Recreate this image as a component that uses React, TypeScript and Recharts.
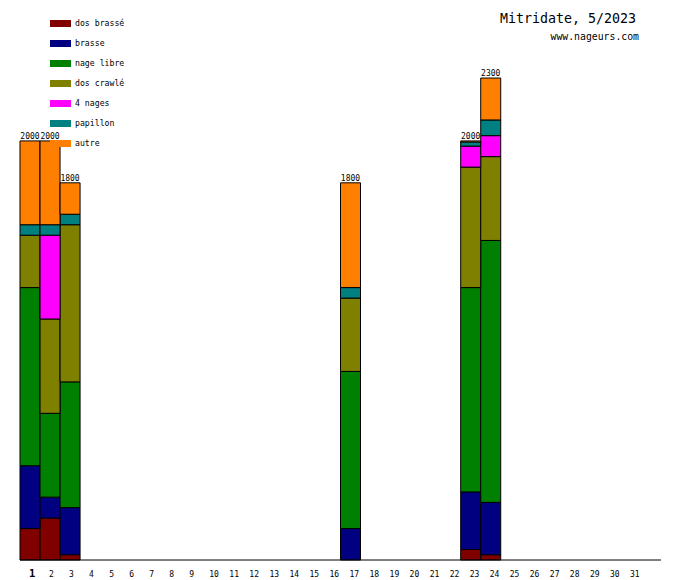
import { BarChart, Bar, XAxis, YAxis, LabelList } from 'recharts';

const days = Array.from({ length: 32 }, (_, i) => (i < 31 ? String(i + 1) : ''));

const activeDays = ['1', '2', '3', '17', '23', '24'];
const dosBrasse = [150, 200, 25, 0, 50, 25];
const brasse = [300, 100, 225, 150, 275, 250];
const nageLibre = [850, 400, 600, 750, 975, 1250];
const dosCrawle = [250, 450, 750, 350, 575, 400];
const quatreNages = [0, 400, 0, 0, 100, 100];
const papillon = [50, 50, 50, 50, 20, 75];
const autre = [400, 400, 150, 500, 5, 200];
const totals = [2000, 2000, 1800, 1800, 2000, 2300];

const series = [
  { key: 'dosBrasse', name: 'dos brassé', color: '#800000', values: dosBrasse },
  { key: 'brasse', name: 'brasse', color: '#000080', values: brasse },
  { key: 'nageLibre', name: 'nage libre', color: '#008000', values: nageLibre },
  { key: 'dosCrawle', name: 'dos crawlé', color: '#808000', values: dosCrawle },
  { key: 'quatreNages', name: '4 nages', color: '#ff00ff', values: quatreNages },
  { key: 'papillon', name: 'papillon', color: '#008080', values: papillon },
  { key: 'autre', name: 'autre', color: '#ff8000', values: autre },
];

const data = days.map((day) => {
  const idx = activeDays.indexOf(day);
  const row: Record<string, string | number> = { day, total: idx >= 0 ? totals[idx] : 0 };
  series.forEach((s) => {
    row[s.key] = idx >= 0 ? s.values[idx] : 0;
  });
  return row;
});

const FONT = '"DejaVu Sans Mono", monospace';

function DayTick({ x, y, payload }: any) {
  if (!payload.value) return null;
  const today = payload.value === '1';
  return (
    <text
      x={x - 1}
      y={y + 9}
      textAnchor="start"
      fontFamily={FONT}
      fontSize={today ? 10.5 : 8}
      fontWeight={today ? 'bold' : 'normal'}
      fill="#000"
    >
      {payload.value}
    </text>
  );
}

function TotalLabel({ x, y, width, value }: any) {
  if (!value) return null;
  return (
    <text x={x + width / 2} y={y - 2} textAnchor="middle" fontFamily={FONT} fontSize={8} fill="#000">
      {value}
    </text>
  );
}

export default function App() {
  return (
    <div style={{ position: 'absolute', left: 0, top: 0, width: 680, height: 580, background: '#fff' }}>
      <BarChart
        width={680}
        height={580}
        data={data}
        margin={{ top: 20, right: 19, left: 20, bottom: 0 }}
        barCategoryGap={0}
        barGap={0}
      >
        <XAxis
          dataKey="day"
          height={20}
          interval={0}
          tickLine={false}
          axisLine={{ stroke: '#000' }}
          tick={<DayTick />}
        />
        <YAxis width={0} domain={[0, 2577]} tick={false} tickLine={false} axisLine={{ stroke: '#000' }} />
        {series.map((s, i) => (
          <Bar
            key={s.key}
            dataKey={s.key}
            stackId="a"
            fill={s.color}
            stroke="#000"
            strokeWidth={1}
            isAnimationActive={false}
          >
            {i === series.length - 1 && <LabelList dataKey="total" content={<TotalLabel />} />}
          </Bar>
        ))}
      </BarChart>
      <div
        style={{
          position: 'absolute',
          right: 44,
          top: 11,
          fontFamily: FONT,
          fontSize: 13.3,
          lineHeight: '16px',
          color: '#000',
        }}
      >
        Mitridate, 5/2023
      </div>
      <div
        style={{
          position: 'absolute',
          right: 41,
          top: 31,
          fontFamily: FONT,
          fontSize: 9.8,
          lineHeight: '12px',
          color: '#000',
        }}
      >
        www.nageurs.com
      </div>
      {series.map((s, i) => (
        <div
          key={s.key}
          style={{
            position: 'absolute',
            left: 50,
            top: 17 + i * 20,
            height: 12,
            display: 'flex',
            alignItems: 'center',
            fontFamily: FONT,
            fontSize: 8.2,
            color: '#000',
            whiteSpace: 'nowrap',
          }}
        >
          <span style={{ display: 'inline-block', width: 21, height: 7, background: s.color, marginRight: 4 }} />
          {s.name}
        </div>
      ))}
    </div>
  );
}
